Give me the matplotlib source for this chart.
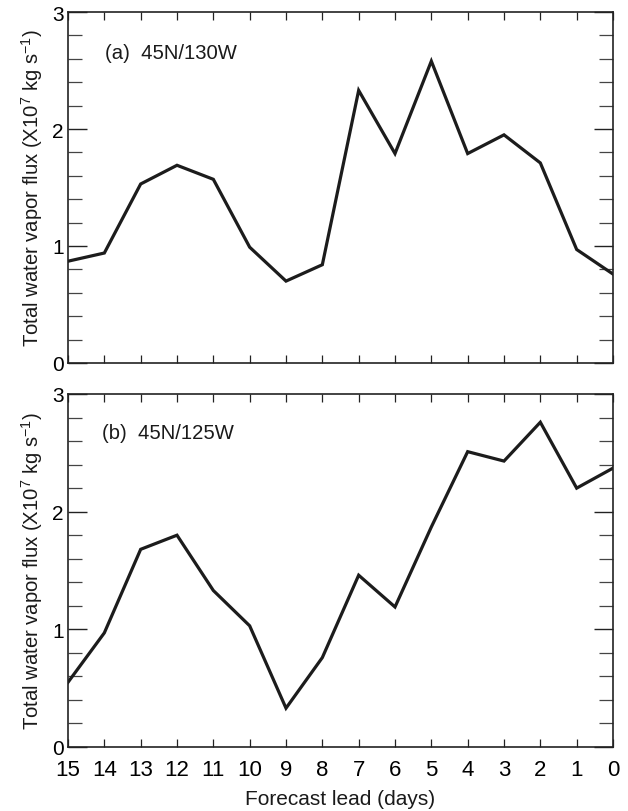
import matplotlib
matplotlib.use("Agg")
import matplotlib.pyplot as plt
from matplotlib.ticker import MultipleLocator

plt.rcParams['font.family'] = ['Liberation Sans', 'DejaVu Sans']
plt.rcParams['mathtext.fontset'] = 'custom'
plt.rcParams['mathtext.rm'] = 'Liberation Sans'
plt.rcParams['mathtext.default'] = 'regular'

lead_days = [15, 14, 13, 12, 11, 10, 9, 8, 7, 6, 5, 4, 3, 2, 1, 0]
flux_a = [0.87, 0.94, 1.53, 1.69, 1.57, 0.99, 0.70, 0.84, 2.33, 1.79, 2.58, 1.79, 1.95, 1.71, 0.97, 0.76]
flux_b = [0.55, 0.97, 1.68, 1.80, 1.33, 1.03, 0.33, 0.76, 1.46, 1.19, 1.87, 2.51, 2.43, 2.76, 2.20, 2.37]
panel_labels = ['(a)  45N/130W', '(b)  45N/125W']
xtick_vals = list(range(15, -1, -1))

fig = plt.figure(figsize=(6.28, 8.12), dpi=100)
ax_a = fig.add_axes([68/628, 1-364/812, 545/628, 351/812])
ax_b = fig.add_axes([68/628, 1-748/812, 545/628, 353/812])

line_color = '#1c1c1c'
for ax, data, lab, lx, ly in [(ax_a, flux_a, panel_labels[0], 0.068, 0.886),
                              (ax_b, flux_b, panel_labels[1], 0.062, 0.892)]:
    ax.plot(lead_days, data, color=line_color, lw=2.3, solid_joinstyle='miter')
    ax.set_xlim(15, 0)
    ax.set_ylim(0, 3)
    ax.set_xticks(xtick_vals)
    ax.yaxis.set_major_locator(MultipleLocator(1))
    ax.yaxis.set_minor_locator(MultipleLocator(0.2))
    ax.tick_params(axis='y', which='major', direction='in', length=13.5, width=1.0,
                   left=True, right=True, labelsize=15, pad=3, color='#222222')
    ax.tick_params(axis='y', which='minor', direction='in', length=10, width=0.9,
                   left=True, right=True, color='#444444')
    ax.tick_params(axis='x', which='major', direction='in', length=6, width=0.9,
                   top=True, bottom=True, labelsize=16, pad=9, color='#222222')
    for s in ax.spines.values():
        s.set_linewidth(1.2)
        s.set_color('#222222')
    ax.text(lx, ly, lab, transform=ax.transAxes,
            ha='left', va='center', fontsize=14.6, color='#1a1a1a')
    ax.set_ylabel(r'Total water vapor flux (X10$^{7}$ kg s$^{-1}$)', fontsize=14.6,
                  color='#1a1a1a', labelpad=5)

ax_a.tick_params(axis='x', labelbottom=False)
ax_b.set_xlabel('Forecast lead (days)', fontsize=15, color='#1a1a1a', labelpad=6)

fig.savefig('out.png', dpi=100)
